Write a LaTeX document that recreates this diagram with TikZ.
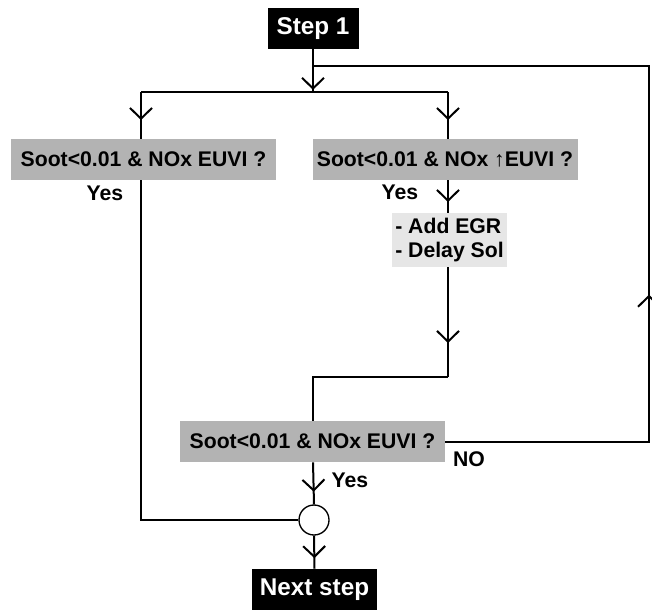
\documentclass[tikz,border=0pt]{standalone}
\usepackage{fontspec}
\setmainfont{Liberation Sans}
\usetikzlibrary{arrows.meta,decorations.markings}

\definecolor{qgray}{HTML}{B3B3B3}
\definecolor{agray}{HTML}{E6E6E6}
\newcommand{\qfont}{\fontsize{15.9}{18}\selectfont\bfseries}

\tikzset{
  flow/.style={line width=1.5pt},
  midarr/.style={postaction={decorate,decoration={markings,
      mark=at position #1 with {\arrow{Straight Barb[length=8pt,width=16.5pt]}}}}},
  blackbox/.style={fill=black,text=white,font=\fontsize{18.2}{22}\selectfont\bfseries,
      minimum height=30.75pt,inner sep=0pt},
  qbox/.style={fill=qgray,font=\qfont,minimum width=198.75pt,minimum height=30.75pt,inner sep=0pt},
  actbox/.style={fill=agray,font=\qfont,align=left,minimum width=86.25pt,
      minimum height=40.5pt,inner sep=1pt},
  lbl/.style={font=\qfont,inner sep=0pt}
}

\begin{document}
\begin{tikzpicture}[x=0.75pt,y=-0.75pt]

% ---------- Rahmen (Pixelmaße der Vorlage) ----------
\useasboundingbox (0,0) rectangle (652,610);

% ===================
% Knoten
% ===================
\node[blackbox,minimum width=68.25pt] (step1) at (313,28.5) {Step 1};
\node[qbox] (q1) at (143.5,159.5) {Soot<0.01 \& NOx EUVI ?};
\node[qbox] (q2) at (445,159.5) {Soot<0.01 \& NOx ↑EUVI ?};
\node[actbox] (act) at (449.5,240) {- Add EGR\\- Delay Sol};
\node[qbox] (q3) at (312.5,441.5) {Soot<0.01 \& NOx EUVI ?};
\node[circle,draw,line width=1pt,minimum size=22.5pt,inner sep=0pt] (join) at (314,520) {};
\node[blackbox,minimum width=93.75pt] (next) at (314.5,589.5) {Next step};

% Beschriftungen
\node[lbl] (yes1) at (105,193) {Yes};
\node[lbl] (yes2) at (400,192) {Yes};
\node[lbl] (yes3) at (350,480) {Yes};
\node[lbl] (no3) at (469,459) {NO};

% Hilfspunkte
\coordinate (split) at (313,66);
\coordinate (fork) at (313,92);
\coordinate (forkL) at (141,92);
\coordinate (forkR) at (448,92);
\coordinate (ret) at (649,66);
\coordinate (merge) at (448,377);

% ===================
% Verbindungen
% ===================
\draw[flow,midarr=0.95] (step1.south) -- (fork);
\draw[flow] (forkL) -- (forkR);
\draw[flow,midarr=0.6] (forkL) -- (forkL |- q1.north);
\draw[flow,midarr=0.6] (forkR) -- (forkR |- q2.north);
\draw[flow,midarr=0.67] (forkR |- q2.south) -- (forkR |- act.north);
\draw[flow,midarr=0.69] (act.south -| forkR) -- (merge);
\draw[flow] (merge) -| (fork |- q3.north);
\draw[flow,midarr=0.7] (fork |- q3.south) -- (join.north);
\draw[flow,midarr=0.68] (join.south) -- (next.north);
\draw[flow] (forkL |- q1.south) |- (join.west);

% Rückführung (NO)
\draw[flow,midarr=0.383] (q3.east) -| (ret) -- (split);

\end{tikzpicture}
\end{document}
